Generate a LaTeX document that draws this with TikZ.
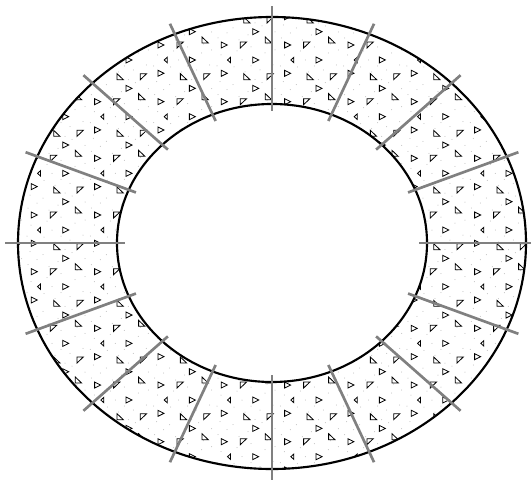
\documentclass[tikz,border=0pt]{standalone}
\usepackage{tikz}
\usetikzlibrary{calc}

\tikzset{
  rim/.style={line width=1.6pt, black},
  spoke/.style={line width=2pt, black!50},
  grain/.style={line width=0.6pt, black, fill=white, line join=miter},
  speck/.style={fill=black!30},
}

% one grain of the fill, shifted to (#1,#2)
\newcommand{\tri}[2]{\draw[grain, shift={(#1,#2)}] (-3,3) -- (3,0) -- (-3,-3) -- cycle;}
\newcommand{\trl}[2]{\draw[grain, shift={(#1,#2)}] (1.5,2.7) -- (-1.5,0) -- (1.5,-2.7) -- cycle;}
\newcommand{\tru}[2]{\draw[grain, shift={(#1,#2)}] (-3,3) -- (3.3,3) -- (-3,-3) -- cycle;}
\newcommand{\trd}[2]{\draw[grain, shift={(#1,#2)}] (-3,3) -- (3.3,-3) -- (-3,-3) -- cycle;}

\begin{document}
\begin{tikzpicture}[x=0.75pt, y=0.75pt]
  \useasboundingbox (-272,-238) rectangle (259,243);

  % filled ring
  \begin{scope}
    \clip (0,0) ellipse (254 and 226);
    \foreach \i in {-4,...,5} {
      \foreach \j in {-1,...,9} {
        \begin{scope}[shift={({-57+63.33*\i},{223-56.67*\j})}]
          \foreach \dx/\dy in {5/5,18/8,33/15,47/6,60/12,3/18,22/31,36/27,50/33,
                               58/45,6/35,19/47,30/52,45/50,12/13,27/40,52/24,40/3,
                               24/20,60/30,2/46,36/46} {
            \fill[speck] (\dx,-\dy) circle (0.5);
          }
          \tri{9.3}{-25}
          \tru{28.3}{-25}
          \tri{40.7}{-11.7}
          \trd{53.3}{-20}
          \trl{14}{-40}
          \tri{40.7}{-40}
          \tri{9.3}{-53.3}
          \trd{31.7}{0}
          \tru{55}{0}
        \end{scope}
      }
    }
  \end{scope}
  \fill[white] (0,0) ellipse (155 and 139);

  % outlines
  \draw[rim] (0,0) ellipse (254 and 226);
  \draw[rim] (0,0) ellipse (155 and 139);

  % radial cuts
  \foreach \t in {0,22.5,...,337.5} {
    \draw[spoke] ({0.95*155*cos(\t)},{0.95*139*sin(\t)}) -- ({1.05*254*cos(\t)},{1.05*226*sin(\t)});
  }
\end{tikzpicture}
\end{document}
